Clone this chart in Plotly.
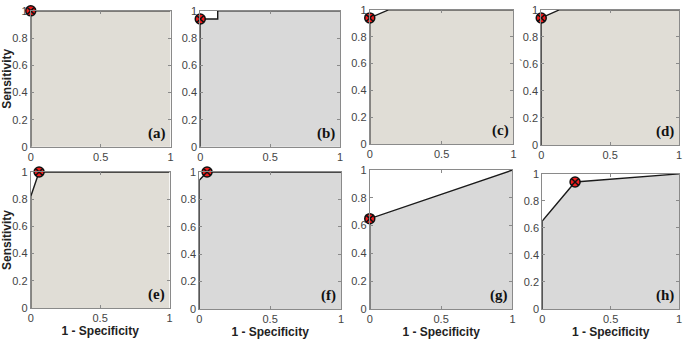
import plotly.graph_objects as go

W, H = 685, 342

panel_labels = ["(a)", "(b)", "(c)", "(d)", "(e)", "(f)", "(g)", "(h)"]
roc_x = [
    [0, 0, 1],
    [0, 0, 0.125, 0.125, 1],
    [0, 0, 0.13, 1],
    [0, 0, 0.13, 1],
    [0, 0, 0.06, 1],
    [0, 0, 0.055, 1],
    [0, 0, 1],
    [0, 0, 0.24, 1],
]
roc_y = [
    [0, 1, 1],
    [0, 0.94, 0.94, 1, 1],
    [0, 0.94, 1, 1],
    [0, 0.94, 1, 1],
    [0, 0.82, 1, 1],
    [0, 0.94, 1, 1],
    [0, 0.65, 1],
    [0, 0.65, 0.94, 1],
]
op_x = [0, 0, 0, 0, 0.06, 0.055, 0, 0.24]
op_y = [1, 0.94, 0.94, 0.94, 1, 1, 0.65, 0.94]
fills = ["#E0DDD6", "#D9D9D9", "#E0DDD6", "#E0DDD6",
         "#E0DDD6", "#D9D9D9", "#D9D9D9", "#D9D9D9"]

x_ticks = [0, 0.5, 1]
x_ticktext = ["0", "0.5", "1"]
y_ticks = [0, 0.2, 0.4, 0.6, 0.8, 1]
y_ticktext = ["0", "0.2", "0.4", "0.6", "0.8", "1"]
y_ticktext_d = ["0", "0.2", "0.4", "`0.6", "0.8", "1"]

# pixel boxes: (x0, x1, ytop, ybottom)
boxes = [
    (28, 169, 5, 146), (199, 340, 5, 146), (370, 515, 4, 143), (543, 682, 4, 144),
    (28, 168, 172, 313), (198, 341, 172, 314), (370, 514, 170, 314), (544, 682, 174, 314),
]

SANS = "Liberation Sans, Arial, sans-serif"
SERIF = "Liberation Serif, Times New Roman, DejaVu Serif, serif"

fig = go.Figure()
tickfont = dict(family=SANS, size=11, color="#444444")

for i in range(8):
    n = i + 1
    xa = "x" if n == 1 else f"x{n}"
    ya = "y" if n == 1 else f"y{n}"
    fig.add_trace(go.Scatter(
        x=roc_x[i], y=roc_y[i], xaxis=xa, yaxis=ya, mode="lines",
        line=dict(color="#1a1a1a", width=1.4), fill="tozeroy", fillcolor=fills[i],
        showlegend=False, hoverinfo="skip"))
    fig.add_trace(go.Scatter(
        x=[op_x[i]], y=[op_y[i]], xaxis=xa, yaxis=ya, mode="markers",
        marker=dict(symbol="circle-x", size=10, color="#ee1c1c",
                    line=dict(color="#111111", width=1.5)),
        cliponaxis=False, showlegend=False, hoverinfo="skip"))
    x0, x1, yt, yb = boxes[i]
    common = dict(showline=True, mirror="ticks", linecolor="#8a8a8a", linewidth=1,
                  ticks="inside", ticklen=3, tickcolor="#8a8a8a", showgrid=False,
                  zeroline=False, range=[0, 1], tickfont=tickfont, fixedrange=True)
    xkey = "xaxis" if n == 1 else f"xaxis{n}"
    ykey = "yaxis" if n == 1 else f"yaxis{n}"
    xtitle = dict(text="<b>1 - Specificity</b>", font=dict(family=SANS, size=12, color="#222"), standoff=3) if i >= 4 else None
    ytitle = dict(text="<b>Sensitivity</b>", font=dict(family=SANS, size=12, color="#222"), standoff=1) if i in (0, 4) else None
    fig.layout[xkey] = dict(domain=[x0 / W, x1 / W], anchor=ya, tickvals=x_ticks,
                            ticktext=x_ticktext, title=xtitle, **common)
    fig.layout[ykey] = dict(domain=[1 - yb / H, 1 - yt / H], anchor=xa, tickvals=y_ticks,
                            ticktext=(y_ticktext_d if i == 3 else y_ticktext),
                            title=ytitle, **common)
    fig.add_annotation(x=0.98, y=0.02, xref=xa, yref=ya, text=f"<b>{panel_labels[i]}</b>",
                       showarrow=False, xanchor="right", yanchor="bottom",
                       font=dict(family=SERIF, size=15, color="#111"))

fig.update_layout(
    width=W, height=H, margin=dict(l=0, r=0, t=0, b=0),
    paper_bgcolor="white", plot_bgcolor="white",
    font=dict(family=SANS),
)
fig.write_html("out.html")
